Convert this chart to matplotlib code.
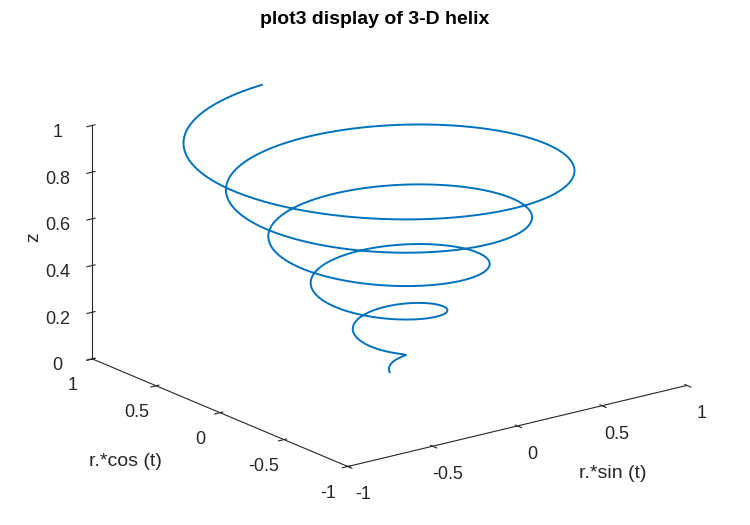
import numpy as np
import matplotlib
matplotlib.use("Agg")
import matplotlib.pyplot as plt

plt.rcParams['font.family'] = ['Liberation Sans', 'DejaVu Sans']

t_end = 10 * np.pi          # helix parameter range
n_points = 500
t = np.linspace(0, t_end, n_points)
r = t / t_end
x = r * np.sin(t)
y = r * np.cos(t)
z = r

ticks_xy = [-1, -0.5, 0, 0.5, 1]
tick_xy_labels = ["-1", "-0.5", "0", "0.5", "1"]
ticks_z = [0, 0.2, 0.4, 0.6, 0.8, 1]
tick_z_labels = ["0", "0.2", "0.4", "0.6", "0.8", "1"]

fig = plt.figure(figsize=(7.5, 5.25), dpi=100)
ax = fig.add_axes([0.01, 0.0, 1.0, 1.0], projection="3d")
ax.set_proj_type("ortho")
ax.plot(x, y, z, color="#0072bd", lw=1.4)
ax.view_init(elev=18.5, azim=-127)
ax.set_box_aspect((1, 1, 0.58), zoom=1.2)
ax.set_xlim(-1, 1); ax.set_ylim(-1, 1); ax.set_zlim(0, 1)
ax.set_xticks(ticks_xy); ax.set_xticklabels(tick_xy_labels)
ax.set_yticks(ticks_xy); ax.set_yticklabels(tick_xy_labels)
ax.set_zticks(ticks_z); ax.set_zticklabels(tick_z_labels)
ax.grid(False)
for a in (ax.xaxis, ax.yaxis, ax.zaxis):
    a.pane.fill = False
    a.pane.set_edgecolor("none")
    a.line.set_color("#262626")
    a.set_tick_params(labelsize=13, colors="#262626")
fig.text(0.817, 0.098, "r.*sin (t)", fontsize=14, color="#262626", ha="center", va="center")
fig.text(0.167, 0.12, "r.*cos (t)", fontsize=14, color="#262626", ha="center", va="center")
fig.text(0.045, 0.548, "z", fontsize=14, color="#262626", ha="center", va="center", rotation=90)
fig.text(0.5, 0.962, "plot3 display of 3-D helix", fontsize=14, fontweight="bold",
         ha="center", va="center")
fig.savefig("out.png")
